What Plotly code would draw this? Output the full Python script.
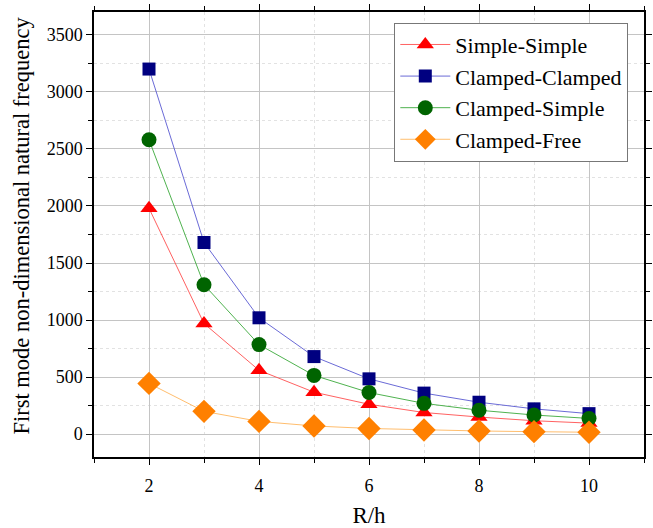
import plotly.graph_objects as go

rh = [2, 3, 4, 5, 6, 7, 8, 9, 10]
simple_simple = [1980, 970, 560, 368, 262, 190, 150, 118, 97]
clamped_clamped = [3200, 1680, 1020, 680, 485, 360, 280, 222, 180]
clamped_simple = [2580, 1310, 785, 515, 365, 270, 210, 168, 138]
clamped_free = [445, 200, 112, 72, 50, 37, 28, 22, 17]

series = [
    ("Simple-Simple", simple_simple, "#ff0000", "rgba(255,80,80,0.9)", "triangle-up", 15),
    ("Clamped-Clamped", clamped_clamped, "#000080", "rgba(90,90,210,0.9)", "square", 13),
    ("Clamped-Simple", clamped_simple, "#006400", "rgba(60,170,60,0.9)", "circle", 15),
    ("Clamped-Free", clamped_free, "#ff8000", "rgba(255,190,110,1)", "diamond", 18),
]

fig = go.Figure()
for name, vals, mcol, lcol, sym, size in series:
    fig.add_trace(go.Scatter(
        x=rh, y=vals, name=name, mode="lines+markers",
        line=dict(color=lcol, width=1),
        marker=dict(symbol=sym, size=size, color=mcol, line=dict(width=0)),
    ))

font = "Liberation Serif, Times New Roman, serif"
axis_common = dict(
    showline=True, linecolor="black", linewidth=1.5, mirror="ticks",
    ticks="outside", ticklen=6, tickwidth=1.2, tickcolor="black",
    showgrid=True, gridcolor="#c4c4c4", gridwidth=1,
    zeroline=False, automargin=False,
    tickfont=dict(family=font, size=18, color="black"),
)
fig.update_xaxes(
    range=[1, 11], dtick=2, tick0=0, ticklabelstandoff=6,
    minor=dict(dtick=1, ticks="outside", ticklen=4, tickcolor="black", showgrid=True,
               gridcolor="#e2e2e2", griddash="dot", gridwidth=1),
    title=dict(text="R/h", font=dict(family=font, size=23, color="black"), standoff=14),
    **axis_common,
)
fig.update_yaxes(
    range=[-200, 3700], dtick=500, tick0=0,
    minor=dict(dtick=250, ticks="outside", ticklen=4, tickcolor="black", showgrid=True,
               gridcolor="#e2e2e2", griddash="dot", gridwidth=1),
    **axis_common,
)
fig.add_annotation(
    text="First mode non-dimensional natural frequency",
    xref="paper", yref="paper", x=0, y=0.52, xanchor="center", yanchor="middle",
    xshift=-72, textangle=-90, showarrow=False,
    font=dict(family=font, size=22.5, color="black"),
)
fig.update_layout(
    width=653, height=528,
    margin=dict(l=94, r=9, t=12, b=71),
    paper_bgcolor="white", plot_bgcolor="white",
    font=dict(family=font, color="black"),
    legend=dict(
        x=0.546, y=0.976, xanchor="left", yanchor="top",
        bgcolor="white", bordercolor="#777777", borderwidth=1,
        font=dict(family=font, size=22, color="black"),
        tracegroupgap=0, itemwidth=50,
    ),
    showlegend=True,
)
fig.write_html("out.html")
